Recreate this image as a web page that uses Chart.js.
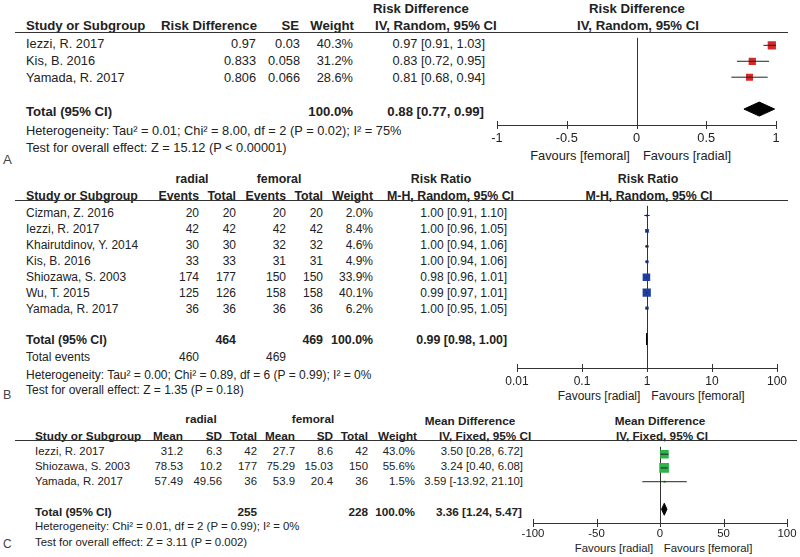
<!DOCTYPE html>
<html><head><meta charset="utf-8">
<script src="https://cdn.jsdelivr.net/npm/chart.js@4.4.1/dist/chart.umd.min.js"></script>
<style>
html,body{margin:0;padding:0;background:#fff}
body{width:800px;height:557px;position:relative;overflow:hidden;font-family:"Liberation Sans",Arial,Helvetica,sans-serif;font-size:12px;color:#222}
.t{position:absolute;white-space:nowrap;line-height:15px;height:15px}
.b{font-weight:bold}
.hl{position:absolute;height:1px;background:#333}
.cw{position:absolute}
.cw canvas{display:block}
.lt{position:absolute;color:#444;line-height:16px}
</style></head><body>
<script>
// ---------------- DATA ----------------
// Panel A: Risk Difference
const studiesA = ['Iezzi, R. 2017', 'Kis, B. 2016', 'Yamada, R. 2017'];
const rdA = [0.97, 0.833, 0.806];
const seA = [0.03, 0.058, 0.066];
const weightA = [40.3, 31.2, 28.6];
const estA = [0.97, 0.83, 0.81];
const loA = [0.91, 0.72, 0.68];
const hiA = [1.03, 0.95, 0.94];
const totalA = [0.88, 0.77, 0.99];
const ticksA = [-1, -0.5, 0, 0.5, 1];

// Panel B: Risk Ratio
const studiesB = ['Cizman, Z. 2016', 'Iezzi, R. 2017', 'Khairutdinov, Y. 2014', 'Kis, B. 2016', 'Shiozawa, S. 2003', 'Wu, T. 2015', 'Yamada, R. 2017'];
const radEvB = [20, 42, 30, 33, 174, 125, 36];
const radTotB = [20, 42, 30, 33, 177, 126, 36];
const femEvB = [20, 42, 32, 31, 150, 158, 36];
const femTotB = [20, 42, 32, 31, 150, 158, 36];
const weightB = [2.0, 8.4, 4.6, 4.9, 33.9, 40.1, 6.2];
const estB = [1.00, 1.00, 1.00, 1.00, 0.98, 0.99, 1.00];
const loB = [0.91, 0.96, 0.94, 0.94, 0.96, 0.97, 0.95];
const hiB = [1.10, 1.05, 1.06, 1.06, 1.01, 1.01, 1.05];
const totalB = [0.99, 0.98, 1.00];
const totalsB = [464, 469];
const eventsB = [460, 469];
const ticksB = [0.01, 0.1, 1, 10, 100];

// Panel C: Mean Difference
const studiesC = ['Iezzi, R. 2017', 'Shiozawa, S. 2003', 'Yamada, R. 2017'];
const radMeanC = [31.2, 78.53, 57.49];
const radSdC = [6.3, 10.2, 49.56];
const radTotC = [42, 177, 36];
const femMeanC = [27.7, 75.29, 53.9];
const femSdC = [8.6, 15.03, 20.4];
const femTotC = [42, 150, 36];
const weightC = [43.0, 55.6, 1.5];
const estC = [3.50, 3.24, 3.59];
const loC = [0.28, 0.40, -13.92];
const hiC = [6.72, 6.08, 21.10];
const totalC = [3.36, 1.24, 5.47];
const totalsC = [255, 228];
const ticksC = [-100, -50, 0, 50, 100];

// ---------------- HELPERS ----------------
const FONT = '"Liberation Sans", Arial, Helvetica, sans-serif';
let FS = 12;
function T(str, x, y, align, bold) {
  const d = document.createElement('div');
  d.className = 't' + (bold ? ' b' : '');
  d.textContent = str;
  d.style.fontSize = (bold ? FS * 1.03 : FS) + 'px';
  d.style.top = (y - 7.5) + 'px';
  if (align === 'r') { d.style.right = (800 - x) + 'px'; }
  else if (align === 'c') { d.style.left = x + 'px'; d.style.transform = 'translateX(-50%)'; }
  else { d.style.left = x + 'px'; }
  document.body.appendChild(d);
}
function HL(x1, x2, y) {
  const d = document.createElement('div');
  d.className = 'hl';
  d.style.left = x1 + 'px'; d.style.width = (x2 - x1) + 'px'; d.style.top = y + 'px';
  document.body.appendChild(d);
}
function LT(s, x, y) {
  const d = document.createElement('div');
  d.className = 'lt'; d.textContent = s;
  d.style.fontSize = (FS + 0.5) + 'px';
  d.style.left = x + 'px'; d.style.top = (y - 8) + 'px';
  document.body.appendChild(d);
}
const ci = (e, l, h) => e.toFixed(2) + ' [' + l.toFixed(2) + ', ' + h.toFixed(2) + ']';
const pct = w => w.toFixed(1) + '%';
const side = w => Math.max(2, 1.3 * Math.sqrt(w));

const forestPlugin = {
  id: 'forest',
  beforeDatasetsDraw(chart, args, o) {
    const {ctx, chartArea: ca, scales: {x}} = chart;
    const nx = Math.round(x.getPixelForValue(o.nullValue)) + 0.5;
    ctx.save();
    ctx.strokeStyle = '#333'; ctx.lineWidth = 1;
    ctx.beginPath(); ctx.moveTo(nx, ca.top); ctx.lineTo(nx, ca.bottom); ctx.stroke();
    ctx.restore();
  },
  afterDatasetsDraw(chart, args, o) {
    const {ctx, scales: {x, y}} = chart;
    const [e, l, h] = o.total;
    const yc = y.getPixelForValue(o.totalRow);
    const hh = o.diamondHalf;
    ctx.save();
    ctx.fillStyle = '#000'; ctx.strokeStyle = '#000'; ctx.lineWidth = 1;
    ctx.beginPath();
    ctx.moveTo(x.getPixelForValue(l), yc);
    ctx.lineTo(x.getPixelForValue(e), yc - hh);
    ctx.lineTo(x.getPixelForValue(h), yc);
    ctx.lineTo(x.getPixelForValue(e), yc + hh);
    ctx.closePath(); ctx.fill(); ctx.stroke();
    ctx.restore();
  },
  afterDraw(chart) {
    const {ctx, chartArea: ca, scales: {x}} = chart;
    ctx.save();
    ctx.strokeStyle = '#333'; ctx.lineWidth = 1;
    x.ticks.forEach((t, i) => {
      const px = Math.round(x.getPixelForTick(i)) + 0.5;
      ctx.beginPath(); ctx.moveTo(px, ca.bottom - 4); ctx.lineTo(px, ca.bottom + 4); ctx.stroke();
    });
    ctx.restore();
  }
};

function forest(o) {
  const padL = 30, padR = 30, axisH = 32;
  const div = document.createElement('div');
  div.className = 'cw';
  div.style.left = (o.L - padL) + 'px';
  div.style.top = o.T + 'px';
  div.style.width = (o.R - o.L + padL + padR) + 'px';
  div.style.height = (o.B - o.T + axisH) + 'px';
  const cv = document.createElement('canvas');
  div.appendChild(cv);
  document.body.appendChild(div);
  const ymin = 1 - (o.row0 - o.T) / o.step;
  const ymax = ymin + (o.B - o.T) / o.step;
  const datasets = [];
  o.est.forEach((e, i) => {
    datasets.push({
      type: 'line', data: [{x: o.lo[i], y: i + 1}, {x: o.hi[i], y: i + 1}],
      borderColor: '#222', borderWidth: 1, pointRadius: 0, fill: false
    });
  });
  datasets.push({
    type: 'scatter',
    data: o.est.map((e, i) => ({x: e, y: i + 1})),
    pointStyle: 'rect',
    pointRadius: o.weight.map(w => side(w) / (2 * Math.SQRT1_2)),
    backgroundColor: o.color, borderWidth: 0
  });
  new Chart(cv, {
    type: 'scatter',
    data: {datasets},
    options: {
      responsive: true, maintainAspectRatio: false, animation: false,
      layout: {padding: {left: padL, right: padR, top: 0, bottom: 0}},
      plugins: {legend: {display: false}, tooltip: {enabled: false},
        forest: {nullValue: o.nullValue, total: o.total, totalRow: o.totalRow, diamondHalf: o.diamondHalf}},
      scales: {
        x: {
          type: o.xType, min: o.ticks[0], max: o.ticks[o.ticks.length - 1], position: 'bottom',
          afterBuildTicks: s => { s.ticks = o.ticks.map(v => ({value: v})); },
          afterFit: s => { s.height = axisH; },
          grid: {display: false, drawTicks: false},
          border: {display: true, color: '#333', width: 1},
          ticks: {autoSkip: false, maxRotation: 0, padding: o.tickPad, color: '#222',
            font: {family: FONT, size: o.fs}, callback: v => String(v)}
        },
        y: {type: 'linear', reverse: true, min: ymin, max: ymax, display: false}
      }
    },
    plugins: [forestPlugin]
  });
}

// ---------------- PANEL A ----------------
FS = 12.8;
const A = {L: 497, R: 776, T: 32, B: 125, row0: 40, step: 17, totalRow: 5};
T('Risk Difference', 373, 8, 'l', 1);
T('Risk Difference', 637, 8, 'c', 1);
T('Study or Subgroup', 26, 25, 'l', 1);
T('Risk Difference', 257, 25, 'r', 1);
T('SE', 299, 25, 'r', 1);
T('Weight', 354, 25, 'r', 1);
T('IV, Random, 95% CI', 375, 25, 'l', 1);
T('IV, Random, 95% CI', 638, 25, 'c', 1);
HL(15, 788, A.T);
studiesA.forEach((s, i) => {
  const y = A.row0 + i * A.step + 3;
  T(s, 26, y, 'l');
  T(String(rdA[i]), 256, y, 'r');
  T(String(seA[i]), 300, y, 'r');
  T(pct(weightA[i]), 353, y, 'r');
  T(ci(estA[i], loA[i], hiA[i]), 485, y, 'r');
});
{
  const y = A.row0 + (A.totalRow - 1) * A.step + 3;
  T('Total (95% CI)', 26, y, 'l', 1);
  T('100.0%', 353, y, 'r', 1);
  T(ci(totalA[0], totalA[1], totalA[2]), 484, y, 'r', 1);
}
T('Heterogeneity: Tau\u00b2 = 0.01; Chi\u00b2 = 8.00, df = 2 (P = 0.02); I\u00b2 = 75%', 26, 130, 'l');
T('Test for overall effect: Z = 15.12 (P < 0.00001)', 26, 147, 'l');
LT('A', 3, 160);
T('Favours [femoral]', 580, 155, 'c');
T('Favours [radial]', 687, 155, 'c');
forest({L: A.L, R: A.R, T: A.T, B: A.B, row0: A.row0, step: A.step, totalRow: A.totalRow,
  est: estA, lo: loA, hi: hiA, weight: weightA, total: totalA, nullValue: 0, fs: FS,
  xType: 'linear', ticks: ticksA, color: '#d42a2a', diamondHalf: 7, tickPad: 6});

// ---------------- PANEL B ----------------
FS = 12;
const Bp = {L: 517, R: 777, T: 200, B: 368, row0: 210, step: 16, totalRow: 9};
T('radial', 192, 179, 'c', 1);
T('femoral', 279, 179, 'c', 1);
T('Risk Ratio', 441, 179, 'c', 1);
T('Risk Ratio', 648, 179, 'c', 1);
T('Study or Subgroup', 26, 196, 'l', 1);
T('Events', 199, 196, 'r', 1);
T('Total', 236, 196, 'r', 1);
T('Events', 286, 196, 'r', 1);
T('Total', 323, 196, 'r', 1);
T('Weight', 373, 196, 'r', 1);
T('M-H, Random, 95% CI', 387, 196, 'l', 1);
T('M-H, Random, 95% CI', 649, 196, 'c', 1);
HL(15, 788, Bp.T);
studiesB.forEach((s, i) => {
  const y = Bp.row0 + i * Bp.step + 3;
  T(s, 26, y, 'l');
  T(String(radEvB[i]), 199, y, 'r');
  T(String(radTotB[i]), 236, y, 'r');
  T(String(femEvB[i]), 286, y, 'r');
  T(String(femTotB[i]), 323, y, 'r');
  T(pct(weightB[i]), 373, y, 'r');
  T(ci(estB[i], loB[i], hiB[i]), 507, y, 'r');
});
T('Total (95% CI)', 26, 340, 'l', 1);
T(String(totalsB[0]), 236, 340, 'r', 1);
T(String(totalsB[1]), 323, 340, 'r', 1);
T('100.0%', 373, 340, 'r', 1);
T(ci(totalB[0], totalB[1], totalB[2]), 507, 340, 'r', 1);
T('Total events', 26, 357, 'l');
T(String(eventsB[0]), 199, 357, 'r');
T(String(eventsB[1]), 286, 357, 'r');
T('Heterogeneity: Tau\u00b2 = 0.00; Chi\u00b2 = 0.89, df = 6 (P = 0.99); I\u00b2 = 0%', 26, 375, 'l');
T('Test for overall effect: Z = 1.35 (P = 0.18)', 26, 390, 'l');
LT('B', 3, 395);
T('Favours [radial]', 599, 396, 'c');
T('Favours [femoral]', 698, 396, 'c');
forest({L: Bp.L, R: Bp.R, T: Bp.T, B: Bp.B, row0: Bp.row0, step: Bp.step, totalRow: Bp.totalRow,
  est: estB, lo: loB, hi: hiB, weight: weightB, total: totalB, nullValue: 1, fs: FS,
  xType: 'logarithmic', ticks: ticksB, color: '#1f3ea3', diamondHalf: 6, tickPad: 6});

// ---------------- PANEL C ----------------
FS = 11.4;
const Cp = {L: 533, R: 787, T: 440, B: 523, row0: 448, step: 15, totalRow: 5};
T('radial', 201, 418, 'c', 1);
T('femoral', 313, 418, 'c', 1);
T('Mean Difference', 470, 420, 'c', 1);
T('Mean Difference', 660, 420, 'c', 1);
T('Study or Subgroup', 35, 435, 'l', 1);
T('Mean', 183, 435, 'r', 1);
T('SD', 222, 435, 'r', 1);
T('Total', 257, 435, 'r', 1);
T('Mean', 295, 435, 'r', 1);
T('SD', 333, 435, 'r', 1);
T('Total', 368, 435, 'r', 1);
T('Weight', 417, 435, 'r', 1);
T('IV, Fixed, 95% CI', 439, 435, 'l', 1);
T('IV, Fixed, 95% CI', 662, 435, 'c', 1);
HL(15, 797, Cp.T);
studiesC.forEach((s, i) => {
  const y = Cp.row0 + i * Cp.step + 3;
  T(s, 35, y, 'l');
  T(String(radMeanC[i]), 183, y, 'r');
  T(String(radSdC[i]), 222, y, 'r');
  T(String(radTotC[i]), 257, y, 'r');
  T(String(femMeanC[i]), 295, y, 'r');
  T(String(femSdC[i]), 333, y, 'r');
  T(String(femTotC[i]), 368, y, 'r');
  T(pct(weightC[i]), 415, y, 'r');
  T(ci(estC[i], loC[i], hiC[i]), 523, y, 'r');
});
{
  const y = Cp.row0 + (Cp.totalRow - 1) * Cp.step + 3;
  T('Total (95% CI)', 35, y, 'l', 1);
  T(String(totalsC[0]), 257, y, 'r', 1);
  T(String(totalsC[1]), 368, y, 'r', 1);
  T('100.0%', 415, y, 'r', 1);
  T(ci(totalC[0], totalC[1], totalC[2]), 522, y, 'r', 1);
}
T('Heterogeneity: Chi\u00b2 = 0.01, df = 2 (P = 0.99); I\u00b2 = 0%', 35, 526, 'l');
T('Test for overall effect: Z = 3.11 (P = 0.002)', 35, 542, 'l');
LT('C', 3, 544);
T('Favours [radial]', 614, 548, 'c');
T('Favours [femoral]', 708, 548, 'c');
forest({L: Cp.L, R: Cp.R, T: Cp.T, B: Cp.B, row0: Cp.row0, step: Cp.step, totalRow: Cp.totalRow,
  est: estC, lo: loC, hi: hiC, weight: weightC, total: totalC, nullValue: 0, fs: FS,
  xType: 'linear', ticks: ticksC, color: '#2db34a', diamondHalf: 6, tickPad: 4});
</script>
</body></html>
